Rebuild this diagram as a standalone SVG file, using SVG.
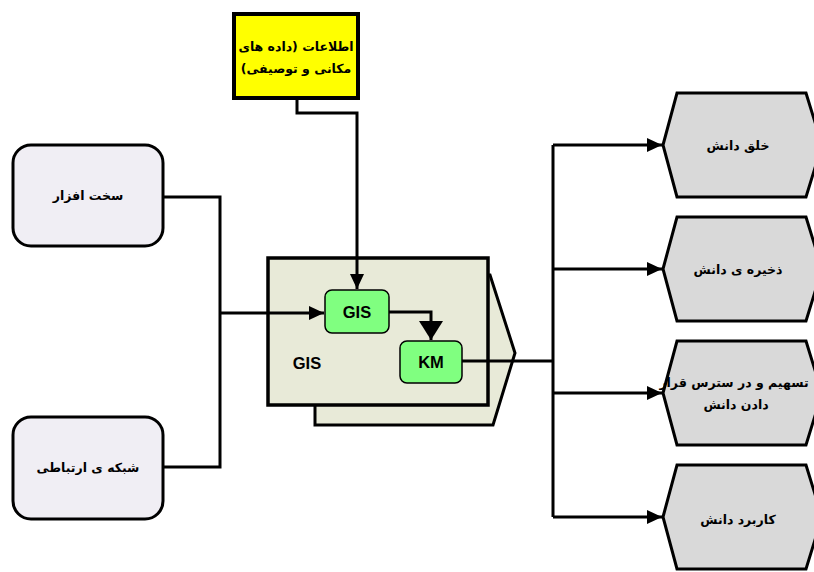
<svg xmlns="http://www.w3.org/2000/svg" width="814" height="572" viewBox="0 0 814 572">
<style>
.fa{font-family:"DejaVu Sans","Noto Sans",sans-serif;font-weight:bold;font-size:12.5px;fill:#000}
.en{font-family:"Liberation Sans",Arial,sans-serif;font-weight:bold;font-size:16.5px;fill:#000}
.src{fill:#F0EEF4;stroke:#000;stroke-width:3}
.hex{fill:#D9D9D9;stroke:#000;stroke-width:3;stroke-linejoin:miter}
.inner{fill:#80FF80;stroke:#000;stroke-width:1.5}
.con{fill:none;stroke:#000;stroke-width:3}
</style>
<defs>
<marker id="arr" markerUnits="userSpaceOnUse" markerWidth="16" markerHeight="14" refX="15" refY="7" orient="auto">
<path d="M0,0 L15,7 L0,14 z" fill="#000"/>
</marker>
<marker id="arrBig" markerUnits="userSpaceOnUse" markerWidth="20" markerHeight="24" refX="19" refY="12" orient="auto">
<path d="M0,0 L19,12 L0,24 z" fill="#000"/>
</marker>
</defs>
<rect width="814" height="572" fill="#fff"/>

<g id="gis-container">
<polygon points="315,275 490,275 515,353 493,425 315,425" fill="#E8EAD8" stroke="#000" stroke-width="3"/>
<rect x="268" y="258" width="220" height="147" fill="#E8EAD8" stroke="#000" stroke-width="3.5"/>
<text class="en" x="307" y="369" text-anchor="middle">GIS</text>
</g>

<g id="info">
<rect x="234" y="14" width="124" height="84" fill="#FFFF00" stroke="#000" stroke-width="4"/>
<text class="fa" x="296" y="51" text-anchor="middle" direction="rtl">اطلاعات (داده های</text>
<text class="fa" x="296" y="73" text-anchor="middle" direction="rtl">مکانی و توصیفی)</text>
</g>

<g id="hardware">
<rect class="src" x="13" y="145" width="150" height="101" rx="18"/>
<text class="fa" x="88" y="200" text-anchor="middle" direction="rtl">سخت افزار</text>
</g>

<g id="network">
<rect class="src" x="13" y="417" width="150" height="102" rx="18"/>
<text class="fa" x="88" y="472" text-anchor="middle" direction="rtl">شبکه ی ارتباطی</text>
</g>

<g id="gis">
<rect class="inner" x="325" y="290" width="64" height="43" rx="7"/>
<text class="en" x="357" y="318" text-anchor="middle">GIS</text>
</g>

<g id="km">
<rect class="inner" x="400" y="341" width="62" height="42" rx="7"/>
<text class="en" x="431" y="368" text-anchor="middle">KM</text>
</g>

<g id="create">
<polygon class="hex" points="663,145 677,93 806,93 822,145 806,197 677,197"/>
<text class="fa" x="738" y="150" text-anchor="middle" direction="rtl">خلق دانش</text>
</g>
<g id="store">
<polygon class="hex" points="663,269 677,217 806,217 822,269 806,321 677,321"/>
<text class="fa" x="738" y="274" text-anchor="middle" direction="rtl">ذخیره ی دانش</text>
</g>
<g id="share">
<polygon class="hex" points="663,393 677,341 806,341 822,393 806,445 677,445"/>
<text class="fa" x="734" y="387" text-anchor="middle" direction="rtl">تسهیم و در سترس قرار</text>
<text class="fa" x="736" y="409" text-anchor="middle" direction="rtl">دادن دانش</text>
</g>
<g id="apply">
<polygon class="hex" points="663,517 677,465 806,465 822,517 806,569 677,569"/>
<text class="fa" x="738" y="524" text-anchor="middle" direction="rtl">کاربرد دانش</text>
</g>

<g id="connectors">
<path class="con" d="M297,98 V113 H357 V289" marker-end="url(#arr)"/>
<path class="con" d="M163,197 H220 V313"/>
<path class="con" d="M163,467 H220 V313"/>
<path class="con" d="M220,313 H324" marker-end="url(#arr)"/>
<path class="con" d="M389,312 H431 V340" stroke-width="5.5" marker-end="url(#arrBig)"/>
<path class="con" d="M462,361 H553"/>
<path class="con" d="M553,145 V517"/>
<path class="con" d="M553,145 H662" marker-end="url(#arr)"/>
<path class="con" d="M553,269 H662" marker-end="url(#arr)"/>
<path class="con" d="M553,393 H662" marker-end="url(#arr)"/>
<path class="con" d="M553,517 H662" marker-end="url(#arr)"/>
</g>
</svg>
